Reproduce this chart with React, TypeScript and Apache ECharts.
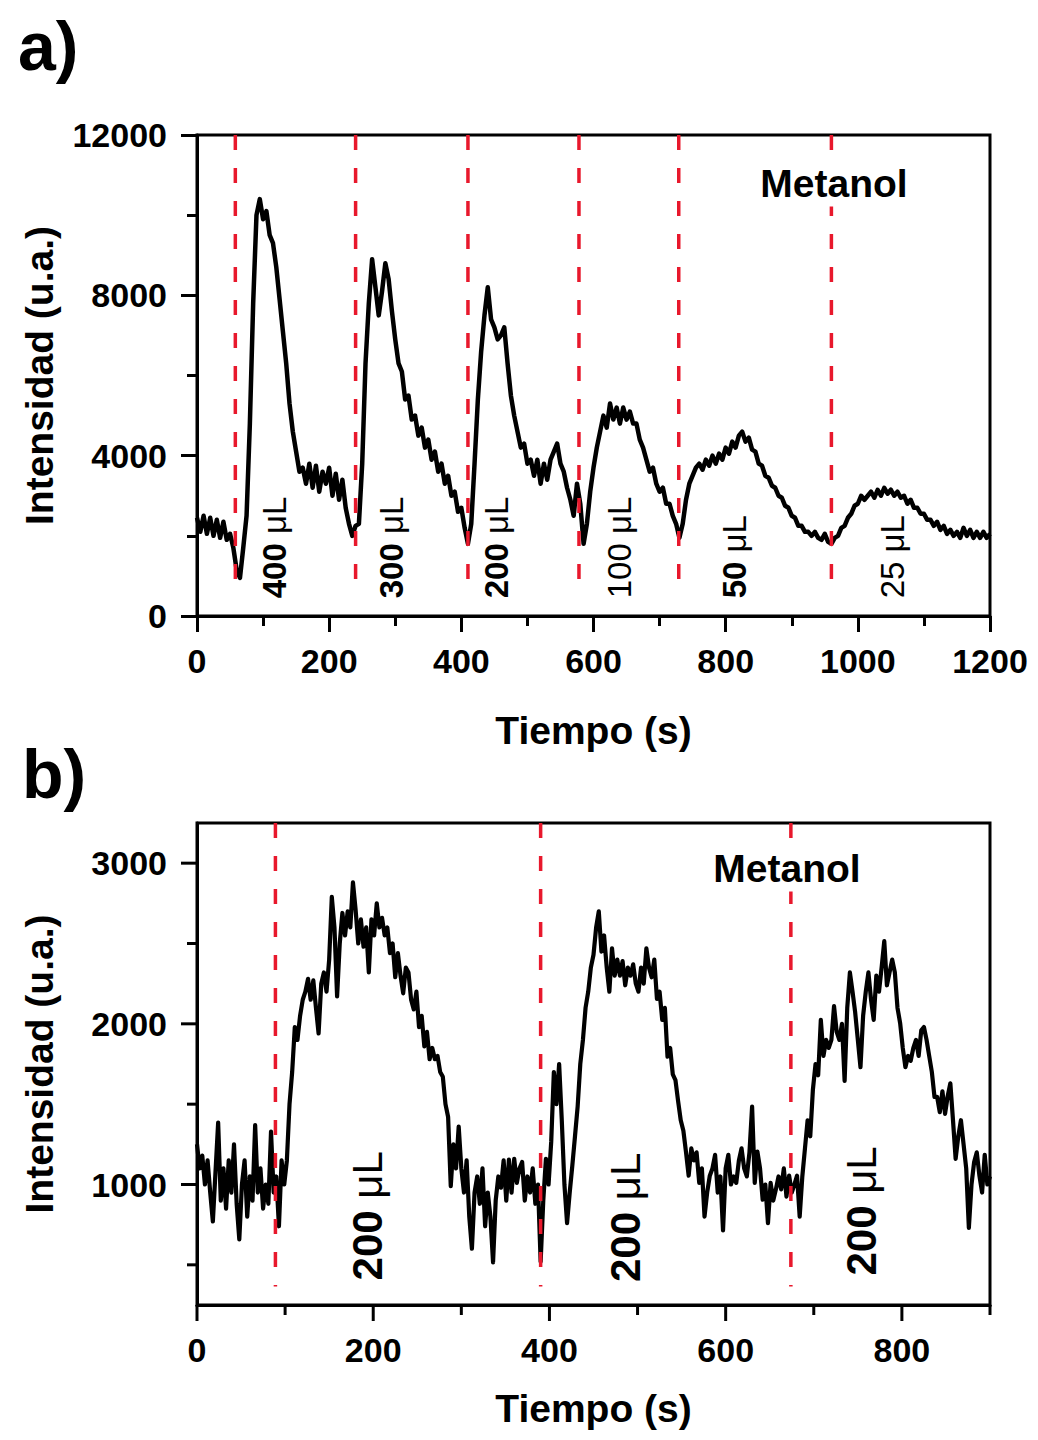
import React, { useEffect, useRef } from 'react';
import * as echarts from 'echarts';

// ---- panel a: decreasing methanol volumes, sampled every 5 s ----
const STEP_A = 5;
const intensityA = [
  2450, 2100, 2500, 2050, 2450, 2000, 2400, 1950, 2350, 1900,
  2050, 1700, 1150, 950, 1700, 2500, 4800, 7800, 10000, 10400,
  9900, 10100, 9500, 9300, 8700, 7900, 7100, 6300, 5300, 4600,
  4100, 3600, 3700, 3300, 3800, 3200, 3750, 3100, 3600, 3300,
  3700, 3000, 3550, 2900, 3400, 2700, 2300, 2000, 2250, 2300,
  3800, 6300, 7800, 8900, 8200, 7500, 8100, 8800, 8400, 7600,
  6900, 6300, 6100, 5400, 5500, 4900, 5000, 4500, 4700, 4200,
  4400, 3900, 4100, 3600, 3800, 3300, 3500, 3000, 3100, 2600,
  2700, 2200, 1800, 2300, 3800, 5400, 6600, 7500, 8200, 7400,
  7200, 6900, 7000, 7200, 6300, 5500, 5000, 4600, 4200, 4300,
  3800, 3900, 3500, 3900, 3300, 3800, 3400, 3900, 4100, 4300,
  3800, 3600, 3200, 2900, 2500, 3300, 2800, 1800, 2300, 3100,
  3700, 4200, 4600, 5000, 4700, 5300, 4900, 5200, 4800, 5200,
  4900, 5100, 4800, 4800, 4400, 4200, 3900, 3600, 3700, 3300,
  3100, 3200, 2800, 2800, 2500, 2300, 1950, 2300, 2900, 3300,
  3500, 3700, 3800, 3650, 3900, 3750, 4000, 3800, 4050, 3900,
  4200, 4050, 4350, 4200, 4500, 4600, 4350, 4450, 4150, 4100,
  3800, 3750, 3500, 3450, 3250, 3200, 3000, 2950, 2750, 2700,
  2500, 2450, 2250, 2250, 2100, 2100, 2000, 2100, 1950, 1900,
  2050, 1850, 1800, 1950, 2000, 2200, 2250, 2450, 2550, 2750,
  2800, 3000, 2900, 3000, 3100, 2950, 3150, 3000, 3200, 3050,
  3150, 3000, 3100, 2950, 3000, 2800, 2900, 2700, 2700, 2550,
  2550, 2400, 2400, 2250, 2350, 2150, 2250, 2050, 2150, 2000,
  2100, 1950, 2200, 2000, 2150, 1950, 2100, 1950, 2100, 1950,
  2050,
];
const injectionsA = [58, 240, 410, 578, 729, 960];
const volumesA = ['400', '300', '200', '100', '50', '25'];
const volumeAnchorsA = [[118, 430], [295, 430], [454, 430], [640, 430], [814, 430], [1053, 430]];
const volumeWeightsA = ['bold', 'bold', 'bold', 'normal', 'bold', 'normal'];

// ---- panel b: three repeated 200 µL injections, sampled every 3 s ----
const STEP_B = 3;
const intensityB = [
  1250, 1100, 1180, 1000, 1150, 950, 770, 1080, 1385, 900,
  1100, 850, 1150, 950, 1250, 880, 658, 1000, 1150, 800,
  1050, 900, 1370, 950, 1100, 850, 1000, 880, 1330, 950,
  1050, 740, 1150, 1000, 1150, 1500, 1700, 1980, 1900, 2050,
  2150, 2200, 2280, 2150, 2270, 2100, 1940, 2250, 2320, 2200,
  2400, 2790, 2600, 2170, 2500, 2690, 2550, 2700, 2600, 2880,
  2710, 2500, 2650, 2480, 2600, 2320, 2650, 2550, 2750, 2600,
  2660, 2550, 2600, 2440, 2500, 2290, 2440, 2300, 2190, 2350,
  2320, 2150, 2090, 2200, 1980, 2050, 1860, 1950, 1780, 1850,
  1780, 1800, 1700, 1670, 1500, 1420, 990, 1250, 1100, 1360,
  1100, 950, 1150, 800, 600, 950, 1050, 880, 1100, 740,
  950, 800, 515, 900, 1050, 980, 1150, 900, 1155, 950,
  1160, 1010, 1100, 1140, 900, 1050, 950, 1100, 880, 1000,
  520, 900, 1160, 1000, 1265, 1700, 1500, 1750, 1400, 1000,
  760, 950, 1120, 1300, 1485, 1750, 1900, 2100, 2200, 2350,
  2430, 2600, 2700, 2450, 2550, 2350, 2200, 2470, 2300, 2400,
  2300, 2390, 2240, 2350, 2300, 2370, 2250, 2200, 2350, 2250,
  2470, 2350, 2290, 2400, 2155, 2200, 2025, 2100, 1795, 1850,
  1685, 1650, 1520, 1400, 1335, 1200, 1055, 1225, 1150, 1200,
  1010, 1100, 800, 950, 1055, 1100, 1185, 950, 1050, 715,
  1100, 1185, 1000, 1050, 1010, 1150, 1225, 1100, 1050, 1200,
  1485, 1010, 1205, 1100, 905, 1000, 760, 1010, 900, 970,
  1050, 970, 1100, 925, 1055, 950, 1000, 1055, 800, 1050,
  1225, 1400, 1300, 1590, 1750, 1680, 2025, 1800, 1900, 1850,
  1900, 2110, 1950, 1900, 2000, 1645, 2100, 2320, 2200, 2070,
  1900, 1730, 2050, 2200, 2320, 2150, 2025, 2300, 2200, 2350,
  2515, 2240, 2320, 2400, 2320, 2100, 2005, 1850, 1730, 1800,
  1770, 1850, 1900, 1800, 1960, 1980, 1900, 1800, 1700, 1545,
  1545, 1450, 1580, 1440, 1550, 1630, 1400, 1160, 1300, 1400,
  1250, 1100, 730, 1000, 1140, 1200, 1055, 950, 1185, 1000,
  1050,
];
const injectionsB = [89, 390, 674];
const volumesB = ['200', '200', '200'];
const volumeAnchorsB = [[194, 400], [487, 390], [755, 430]];

// axis ranges and ticks
const xRangeA = [0, 1200];
const yRangeA = [0, 12000];
const xRangeB = [0, 900];
const yRangeB = [250, 3250];
const xMajorTicksB = [0, 200, 400, 600, 800];
const xMinorTicksB = [100, 300, 500, 700, 900];
const yMajorTicksB = [1000, 2000, 3000];
const yMinorTicksB = [500, 1500, 2500];

const RED = '#e8182c';
const FONT = '"Liberation Sans", Arial, Helvetica, sans-serif';

function traceSeries(values: number[], step: number, idx: number, width: number) {
  return {
    type: 'line',
    xAxisIndex: idx,
    yAxisIndex: idx,
    data: values.map((v, i) => [i * step, v]),
    showSymbol: false,
    symbol: 'none',
    lineStyle: { color: '#000', width, join: 'round' },
    z: 2,
    silent: true,
  };
}

function injectionSeries(times: number[], top: number, bottom: number, idx: number) {
  return times.map((t) => ({
    type: 'line',
    xAxisIndex: idx,
    yAxisIndex: idx,
    data: [[t, top], [t, bottom]],
    symbol: 'none',
    lineStyle: { color: RED, width: 3.5, type: [15, 18] },
    z: 3,
    silent: true,
  }));
}

function volumeLabels(anchors: number[][], vols: string[], weights: string[], size: number, idx: number) {
  return {
    type: 'scatter',
    xAxisIndex: idx,
    yAxisIndex: idx,
    symbolSize: 1,
    itemStyle: { color: 'transparent', opacity: 1 },
    silent: true,
    z: 5,
    data: anchors.map((p, i) => ({
      value: p,
      label: {
        show: true,
        position: [0, 0],
        rotate: 90,
        align: 'left',
        verticalAlign: 'middle',
        color: '#000',
        opacity: 1,
        textBorderWidth: 0,
        formatter: `{n|${vols[i]}\u00a0}{u|μL}`,
        rich: {
          n: { fontSize: size, fontWeight: weights[i], color: '#000', fontFamily: FONT },
          u: { fontSize: size, fontWeight: 'normal', color: '#000', fontFamily: FONT },
        },
      },
    })),
  };
}

function tickSeries(idx: number, dim: 'x' | 'y', values: number[], fixed: number, len: number) {
  return {
    type: 'custom',
    xAxisIndex: idx,
    yAxisIndex: idx,
    silent: true,
    clip: false,
    z: 4,
    data: values.map((v) => (dim === 'x' ? [v, fixed] : [fixed, v])),
    renderItem: (_params: any, api: any) => {
      const p = api.coord([api.value(0), api.value(1)]);
      const shape =
        dim === 'x'
          ? { x1: p[0], y1: p[1], x2: p[0], y2: p[1] + len }
          : { x1: p[0] - len, y1: p[1], x2: p[0], y2: p[1] };
      return { type: 'line', shape, style: { stroke: '#000', lineWidth: 3 } };
    },
  };
}

const axisLineStyle = { show: true, lineStyle: { color: '#000', width: 3 } };
const tickLabel = { fontSize: 34, fontWeight: 'bold', color: '#000', fontFamily: FONT };
const titleStyle = { fontSize: 39, fontWeight: 'bold', color: '#000', fontFamily: FONT };
const plain = (v: number) => String(v);

export default function App() {
  const ref = useRef<HTMLDivElement>(null);

  useEffect(() => {
    if (!ref.current) return;
    const chart = echarts.init(ref.current, undefined, { renderer: 'svg' });
    const option: any = {
      animation: false,
      backgroundColor: '#fff',
      textStyle: { fontFamily: FONT },
      grid: [
        { left: 197, top: 135, width: 793, height: 481, show: true, borderColor: '#000', borderWidth: 3, backgroundColor: 'transparent' },
        { left: 197, top: 823, width: 793, height: 482, show: true, borderColor: '#000', borderWidth: 3, backgroundColor: 'transparent' },
      ],
      xAxis: [
        {
          type: 'value', gridIndex: 0, min: xRangeA[0], max: xRangeA[1], interval: 200,
          axisLine: axisLineStyle,
          axisTick: { show: true, length: 16, lineStyle: { color: '#000', width: 3 } },
          minorTick: { show: true, splitNumber: 2, length: 10, lineStyle: { color: '#000', width: 3 } },
          splitLine: { show: false },
          axisLabel: { ...tickLabel, margin: 28, formatter: plain },
          name: 'Tiempo (s)', nameLocation: 'middle', nameGap: 95, nameTextStyle: titleStyle,
        },
        {
          type: 'value', gridIndex: 1, min: xRangeB[0], max: xRangeB[1], interval: 100,
          axisLine: axisLineStyle,
          axisTick: { show: false },
          splitLine: { show: false },
          axisLabel: { ...tickLabel, margin: 28, formatter: (v: number) => (v % 200 === 0 ? String(v) : '') },
          name: 'Tiempo (s)', nameLocation: 'middle', nameGap: 84, nameTextStyle: titleStyle,
        },
      ],
      yAxis: [
        {
          type: 'value', gridIndex: 0, min: yRangeA[0], max: yRangeA[1], interval: 4000,
          axisLine: axisLineStyle,
          axisTick: { show: true, length: 16, lineStyle: { color: '#000', width: 3 } },
          minorTick: { show: true, splitNumber: 2, length: 10, lineStyle: { color: '#000', width: 3 } },
          splitLine: { show: false },
          axisLabel: { ...tickLabel, margin: 30, formatter: plain },
          name: 'Intensidad (u.a.)', nameLocation: 'middle', nameGap: 138, nameTextStyle: titleStyle,
        },
        {
          type: 'value', gridIndex: 1, min: yRangeB[0], max: yRangeB[1], interval: 250,
          axisLine: axisLineStyle,
          axisTick: { show: false },
          splitLine: { show: false },
          axisLabel: { ...tickLabel, margin: 30, formatter: (v: number) => (v % 1000 === 0 ? String(v) : '') },
          name: 'Intensidad (u.a.)', nameLocation: 'middle', nameGap: 138, nameTextStyle: titleStyle,
        },
      ],
      series: [
        traceSeries(intensityA, STEP_A, 0, 4.5),
        ...injectionSeries(injectionsA, yRangeA[1], 575, 0),
        volumeLabels(volumeAnchorsA, volumesA, volumeWeightsA, 33, 0),
        traceSeries(intensityB, STEP_B, 1, 4.2),
        ...injectionSeries(injectionsB, yRangeB[1], 365, 1),
        volumeLabels(volumeAnchorsB, volumesB, ['bold', 'bold', 'bold'], 42, 1),
        tickSeries(1, 'x', xMajorTicksB, yRangeB[0], 16),
        tickSeries(1, 'x', xMinorTicksB, yRangeB[0], 10),
        tickSeries(1, 'y', yMajorTicksB, xRangeB[0], 16),
        tickSeries(1, 'y', yMinorTicksB, xRangeB[0], 10),
      ],
      graphic: [
        { type: 'text', left: 18, top: 12, z: 10, style: { text: 'a)', fontSize: 68, fontWeight: 'bold', fill: '#000', fontFamily: FONT } },
        { type: 'text', left: 22, top: 740, z: 10, style: { text: 'b)', fontSize: 68, fontWeight: 'bold', fill: '#000', fontFamily: FONT } },
        {
          type: 'text', x: 834, y: 183, z: 10,
          style: { text: 'Metanol', align: 'center', verticalAlign: 'middle', fontSize: 39, fontWeight: 'bold', fill: '#000', fontFamily: FONT, backgroundColor: '#fff', padding: [4, 6] },
        },
        {
          type: 'text', x: 787, y: 868, z: 10,
          style: { text: 'Metanol', align: 'center', verticalAlign: 'middle', fontSize: 39, fontWeight: 'bold', fill: '#000', fontFamily: FONT, backgroundColor: '#fff', padding: [4, 6] },
        },
      ],
    };
    chart.setOption(option);
    return () => chart.dispose();
  }, []);

  return <div ref={ref} style={{ position: 'absolute', left: 0, top: 0, width: 1038, height: 1440 }} />;
}
